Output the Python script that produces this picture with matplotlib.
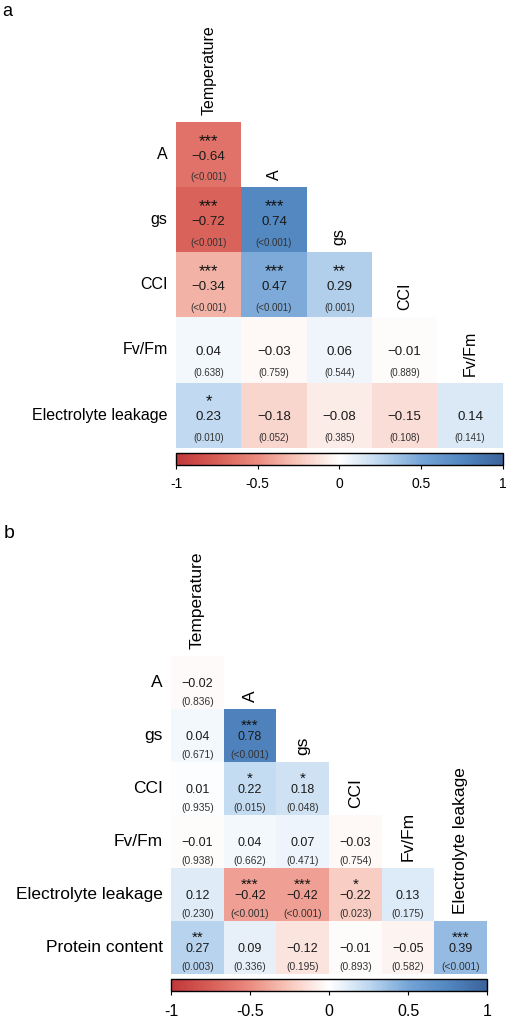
import numpy as np
import matplotlib
matplotlib.use("Agg")
import matplotlib.pyplot as plt
from matplotlib.colors import LinearSegmentedColormap, Normalize
from matplotlib.cm import ScalarMappable

plt.rcParams["font.family"] = ["Liberation Sans", "DejaVu Sans"]

# -------------------------
# Data (lower triangles, row by row)
# -------------------------
rows_a = ["A", "gs", "CCI", "Fv/Fm", "Electrolyte leakage"]
cols_a = ["Temperature", "A", "gs", "CCI", "Fv/Fm"]
r_a = [
    [-0.64],
    [-0.72, 0.74],
    [-0.34, 0.47, 0.29],
    [0.04, -0.03, 0.06, -0.01],
    [0.23, -0.18, -0.08, -0.15, 0.14],
]
p_a = [
    ["<0.001"],
    ["<0.001", "<0.001"],
    ["<0.001", "<0.001", "0.001"],
    ["0.638", "0.759", "0.544", "0.889"],
    ["0.010", "0.052", "0.385", "0.108", "0.141"],
]

rows_b = ["A", "gs", "CCI", "Fv/Fm", "Electrolyte leakage", "Protein content"]
cols_b = ["Temperature", "A", "gs", "CCI", "Fv/Fm", "Electrolyte leakage"]
r_b = [
    [-0.02],
    [0.04, 0.78],
    [0.01, 0.22, 0.18],
    [-0.01, 0.04, 0.07, -0.03],
    [0.12, -0.42, -0.42, -0.22, 0.13],
    [0.27, 0.09, -0.12, -0.01, -0.05, 0.39],
]
p_b = [
    ["0.836"],
    ["0.671", "<0.001"],
    ["0.935", "0.015", "0.048"],
    ["0.938", "0.662", "0.471", "0.754"],
    ["0.230", "<0.001", "<0.001", "0.023", "0.175"],
    ["0.003", "0.336", "0.195", "0.893", "0.582", "<0.001"],
]

cbar_ticks = [-1, -0.5, 0, 0.5, 1]
cbar_labels = ["-1", "-0.5", "0", "0.5", "1"]

# -------------------------
# Colour scale
# -------------------------
nodes = [
    (0.000, (193, 55, 58)),
    (0.125, (215, 95, 88)),
    (0.250, (236, 140, 128)),
    (0.375, (248, 200, 188)),
    (0.500, (255, 255, 255)),
    (0.625, (190, 216, 240)),
    (0.750, (118, 165, 215)),
    (0.875, (82, 135, 193)),
    (1.000, (60, 100, 155)),
]
cmap = LinearSegmentedColormap.from_list(
    "corr", [(t, tuple(c / 255 for c in rgb)) for t, rgb in nodes])
norm = Normalize(-1, 1)

W, H = 513, 1017
fig = plt.figure(figsize=(W / 100, H / 100), dpi=100)


def px_axes(left, top, right, bottom):
    return fig.add_axes([left / W, 1 - bottom / H, (right - left) / W, (bottom - top) / H])


def stars(p):
    if p.startswith("<"):
        return "***"
    v = float(p)
    if v < 0.001:
        return "***"
    if v < 0.01:
        return "**"
    if v < 0.05:
        return "*"
    return ""


def panel(box, cbox, rows, cols, r, p, fs):
    n = len(rows)
    mat = np.full((n, n), np.nan)
    for i, vals in enumerate(r):
        mat[i, :len(vals)] = vals

    ax = px_axes(*box)
    ax.imshow(mat, cmap=cmap, norm=norm, aspect="auto", interpolation="nearest",
              extent=(-0.5, n - 0.5, n - 0.5, -0.5))
    ax.set_xlim(-0.5, n - 0.5)
    ax.set_ylim(n - 0.5, -0.5)
    ax.axis("off")

    for i in range(n):
        ax.annotate(rows[i], xy=(-0.5, i), xytext=(-6, 0), textcoords="offset points",
                    ha="right", va="center", fontsize=fs["label"], annotation_clip=False)
        ax.annotate(cols[i], xy=(i, i - 0.5), xytext=(0, 5), textcoords="offset points",
                    rotation=90, ha="center", va="bottom", fontsize=fs["label"],
                    annotation_clip=False)
        for j, v in enumerate(r[i]):
            top = i - 0.5
            s = stars(p[i][j])
            if s:
                ax.text(j, top + fs["sy"], s, ha="center", va="center",
                        fontsize=fs["star"], color="#111111")
            ax.text(j, top + fs["vy"], f"{v:.2f}".replace("-", "\u2212"),
                    ha="center", va="center", fontsize=fs["val"], color="#1a1a1a")
            ax.text(j, top + fs["py"], f"({p[i][j]})", ha="center", va="center",
                    fontsize=fs["p"], color="#333333")

    cax = px_axes(*cbox)
    cb = fig.colorbar(ScalarMappable(norm=norm, cmap=cmap), cax=cax,
                      orientation="horizontal", ticks=cbar_ticks)
    cb.ax.set_xticklabels(cbar_labels)
    cb.ax.tick_params(length=3, width=0.8, labelsize=fs["cbar"], pad=6)
    cb.outline.set_linewidth(1.0)


panel((176, 122, 502.7, 447.7), (176, 453, 502.7, 464.5),
      rows_a, cols_a, r_a, p_a,
      dict(label=11.5, val=9.6, star=12, p=7, cbar=10, sy=0.30, vy=0.53, py=0.85))
panel((171, 656, 487, 974), (171, 978.5, 487, 991),
      rows_b, cols_b, r_b, p_b,
      dict(label=12.5, val=9, star=11, p=7.4, cbar=11.5, sy=0.32, vy=0.53, py=0.86))

fig.text(7 / W, 1 - 12 / H, "a", fontsize=13, ha="center", va="center")
fig.text(9 / W, 1 - 533 / H, "b", fontsize=14, ha="center", va="center")

fig.savefig("out.png", dpi=100)
